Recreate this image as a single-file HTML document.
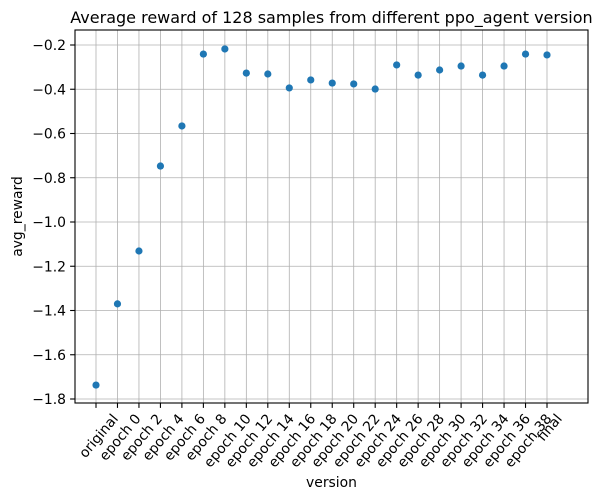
<!DOCTYPE html>
<html><head><meta charset="utf-8"><style>
body{margin:0;background:#fff;}
svg{display:block;font-family:"DejaVu Sans","Liberation Sans",sans-serif;}
</style></head><body>
<svg id="chart" width="602" height="499"></svg>
<script>
const categories=["original","epoch 0","epoch 2","epoch 4","epoch 6","epoch 8","epoch 10","epoch 12","epoch 14","epoch 16","epoch 18","epoch 20","epoch 22","epoch 24","epoch 26","epoch 28","epoch 30","epoch 32","epoch 34","epoch 36","epoch 38","final"];
const rewards=[-1.737,-1.37,-1.131,-0.747,-0.566,-0.241,-0.218,-0.327,-0.331,-0.394,-0.358,-0.372,-0.376,-0.399,-0.290,-0.336,-0.313,-0.295,-0.336,-0.295,-0.241,-0.245];
const yTicks=[-1.8,-1.6,-1.4,-1.2,-1.0,-0.8,-0.6,-0.4,-0.2];
const yTickLabels=["−1.8","−1.6","−1.4","−1.2","−1.0","−0.8","−0.6","−0.4","−0.2"];

const L=75,R=588,T=30,B=403;
const FS=13.9;
const NS="http://www.w3.org/2000/svg";
const svg=document.getElementById('chart');
function xs(i){return 96+i*(547-96)/(categories.length-1);}
function ys(v){return 45+(-0.2-v)*(399-45)/1.6;}
function mk(tag,attrs,parent){const e=document.createElementNS(NS,tag);for(const k in attrs)e.setAttribute(k,attrs[k]);(parent||svg).appendChild(e);return e;}

const grid=mk('g',{});


const ca=Math.cos(50*Math.PI/180);
categories.forEach((c,i)=>{
  const x=xs(i);
  const l=mk('line',{x1:x,x2:x,y1:T,y2:B,stroke:'#b0b0b0','stroke-width':0.8},grid);
  
  
  const t=mk('line',{x1:x,x2:x,y1:B,y2:B+4.9,stroke:'#000','stroke-width':1.1});
  
  
  const tx=mk('text',{x:0,y:0,'font-size':FS,'text-anchor':'end'});
  tx.textContent=c;
  
  
  const w=tx.getComputedTextLength();
  const ex=x+(w*ca+12.3)/2, ey=B+16;
  tx.setAttribute('x',ex);tx.setAttribute('y',ey);
  tx.setAttribute('transform',`rotate(-50 ${ex} ${ey})`);
});
yTicks.forEach((v,i)=>{
  const y=ys(v);
  const l=mk('line',{x1:L,x2:R,y1:y,y2:y,stroke:'#b0b0b0','stroke-width':0.8},grid);
  
  
  const t=mk('line',{x1:L-4.9,x2:L,y1:y,y2:y,stroke:'#000','stroke-width':1.1});
  
  
  const tx=mk('text',{x:L-9,y:y+5,'font-size':FS,'text-anchor':'end'});
  tx.textContent=yTickLabels[i];
  
  
});
const frame=mk('rect',{x:L,y:T,width:R-L,height:B-T,fill:'none',stroke:'#000','stroke-width':1.1});


rewards.forEach((v,i)=>{
  const c=mk('circle',{cx:xs(i),cy:ys(v),r:3.6,fill:'#1f77b4'});
  
  
});
const title=mk('text',{x:(L+R)/2,y:23,'font-size':16,'text-anchor':'middle'});
title.textContent='Average reward of 128 samples from different ppo_agent version';


const xt=mk('text',{x:(L+R)/2,y:487,'font-size':FS,'text-anchor':'middle'});
xt.textContent='version';


const yt=mk('text',{x:22,y:(T+B)/2,'font-size':FS,'text-anchor':'middle',transform:`rotate(-90 22 ${(T+B)/2})`});
yt.textContent='avg_reward';


</script>
</body></html>
